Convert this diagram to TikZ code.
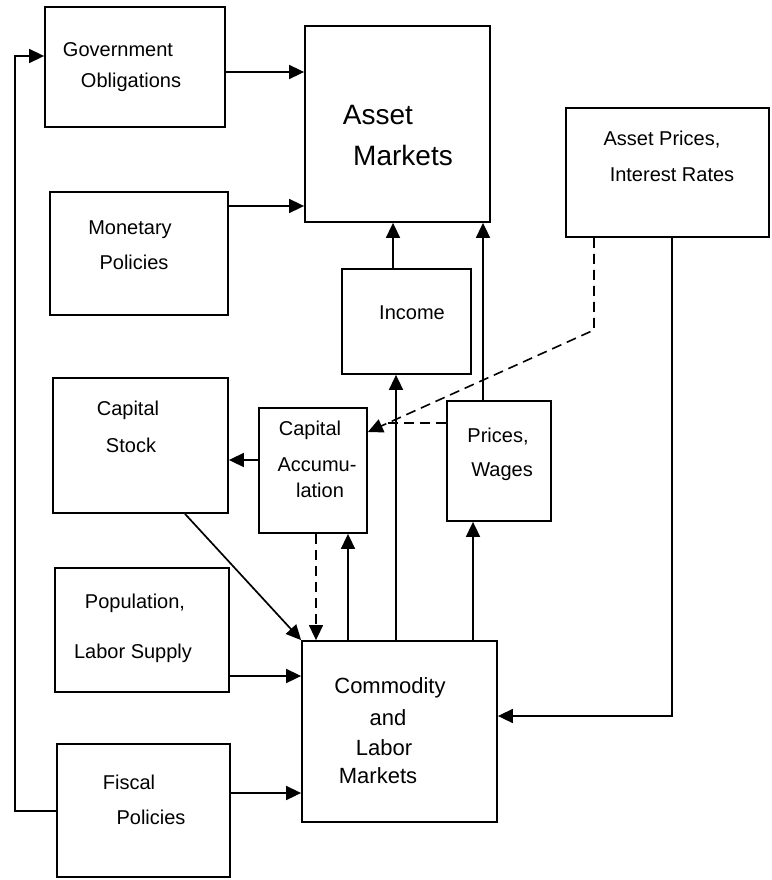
\documentclass[tikz,border=0pt]{standalone}
\usepackage{fontspec}
\setmainfont{Liberation Sans}
\usetikzlibrary{arrows.meta,fit}
\tikzset{
  box/.style={draw, line width=1.8pt, inner sep=0pt},
  lbl/.style={inner sep=0pt, font=\fontsize{20}{24}\selectfont},
  big/.style={inner sep=0pt, font=\fontsize{28}{32}\selectfont},
  mid/.style={inner sep=0pt, font=\fontsize{22}{26}\selectfont},
  tip/.tip={Triangle[length=15pt,width=14pt]},
  conn/.style={line width=1.7pt},
  arr/.style={conn, -tip},
  dsh/.style={line width=1.6pt, dash pattern=on 10pt off 6pt},
}
\begin{document}
\begin{tikzpicture}[x=1pt,y=-1pt]
\useasboundingbox (0,0) rectangle (771,880);
% boxes
\node[box, fit={(45,7) (225,127)}] (gov) {};
\node[box, fit={(305,26) (490,222)}] (asset) {};
\node[box, fit={(50,192) (228,315)}] (mon) {};
\node[box, fit={(566,108) (769,237)}] (aprices) {};
\node[box, fit={(342,269) (471,374)}] (income) {};
\node[box, fit={(53,378) (228,513)}] (capstock) {};
\node[box, fit={(259,408) (367,533)}] (capacc) {};
\node[box, fit={(447,401) (551,521)}] (prices) {};
\node[box, fit={(55,568) (229,692)}] (pop) {};
\node[box, fit={(57,744) (230,877)}] (fiscal) {};
\node[box, fit={(302,641) (497,822)}] (comm) {};
% labels
\node[lbl] (tgov1) at (118,50) {Government};
\node[lbl] (tgov2) at (131,82) {Obligations};
\node[big] (tas1) at (378,115) {Asset};
\node[big] (tas2) at (403,155) {Markets};
\node[lbl] (tmon1) at (130,230) {Monetary};
\node[lbl] (tmon2) at (134,262) {Policies};
\node[lbl] (tap1) at (662,140) {Asset Prices,};
\node[lbl] (tap2) at (672,175) {Interest Rates};
\node[lbl] (tinc) at (412,313) {Income};
\node[lbl] (tcs1) at (128,410) {Capital};
\node[lbl] (tcs2) at (131,445) {Stock};
\node[lbl] (tca1) at (310,430) {Capital};
\node[lbl] (tca2) at (317,465) {Accumu-};
\node[lbl] (tca3) at (320,490) {lation};
\node[lbl] (tpw1) at (498,437) {Prices,};
\node[lbl] (tpw2) at (502,472) {Wages};
\node[lbl] (tpop1) at (135,603) {Population,};
\node[lbl] (tpop2) at (133,653) {Labor Supply};
\node[lbl] (tfis1) at (129,782) {Fiscal};
\node[lbl] (tfis2) at (151,817) {Policies};
\node[mid] (tcm1) at (390,688) {Commodity};
\node[mid] (tcm2) at (388,718) {and};
\node[mid] (tcm3) at (384,748) {Labor};
\node[mid] (tcm4) at (378,776) {Markets};
% helper coordinates
\coordinate (lp) at (15,56);
\coordinate (dk) at (594,330);
\coordinate (dm) at (387,423);
% connectors
\draw[arr] (gov.east |- 0,72) -- (asset.west |- 0,72);
\draw[arr] (mon.east |- 0,206) -- (asset.west |- 0,206);
\draw[arr] (income.north -| 393,0) -- (asset.south -| 393,0);
\draw[arr] (prices.north -| 483,0) -- (asset.south -| 483,0);
\draw[arr] (comm.north -| 396,0) -- (income.south -| 396,0);
\draw[arr] (comm.north -| 348,0) -- (capacc.south -| 348,0);
\draw[arr] (comm.north -| 473,0) -- (prices.south -| 473,0);
\draw[dsh, -tip] (capacc.south -| 316,0) -- (comm.north -| 316,0);
\draw[arr] (capacc.west |- 0,460) -- (capstock.east |- 0,460);
\draw[arr] (capstock.south -| 185,0) -- (comm.north west);
\draw[arr] (pop.east |- 0,676) -- (comm.west |- 0,676);
\draw[arr] (fiscal.east |- 0,793) -- (comm.west |- 0,793);
\draw[arr] (fiscal.west |- 0,811) -| (lp) -- (gov.west |- lp);
\draw[arr] (aprices.south -| 672,0) |- (comm.east |- 0,716);
\draw[dsh, -tip] (aprices.south -| 594,0) -- (dk) -- (capacc.east |- 0,432);
\draw[dsh] (prices.west |- dm) -- (dm);
\end{tikzpicture}
\end{document}
